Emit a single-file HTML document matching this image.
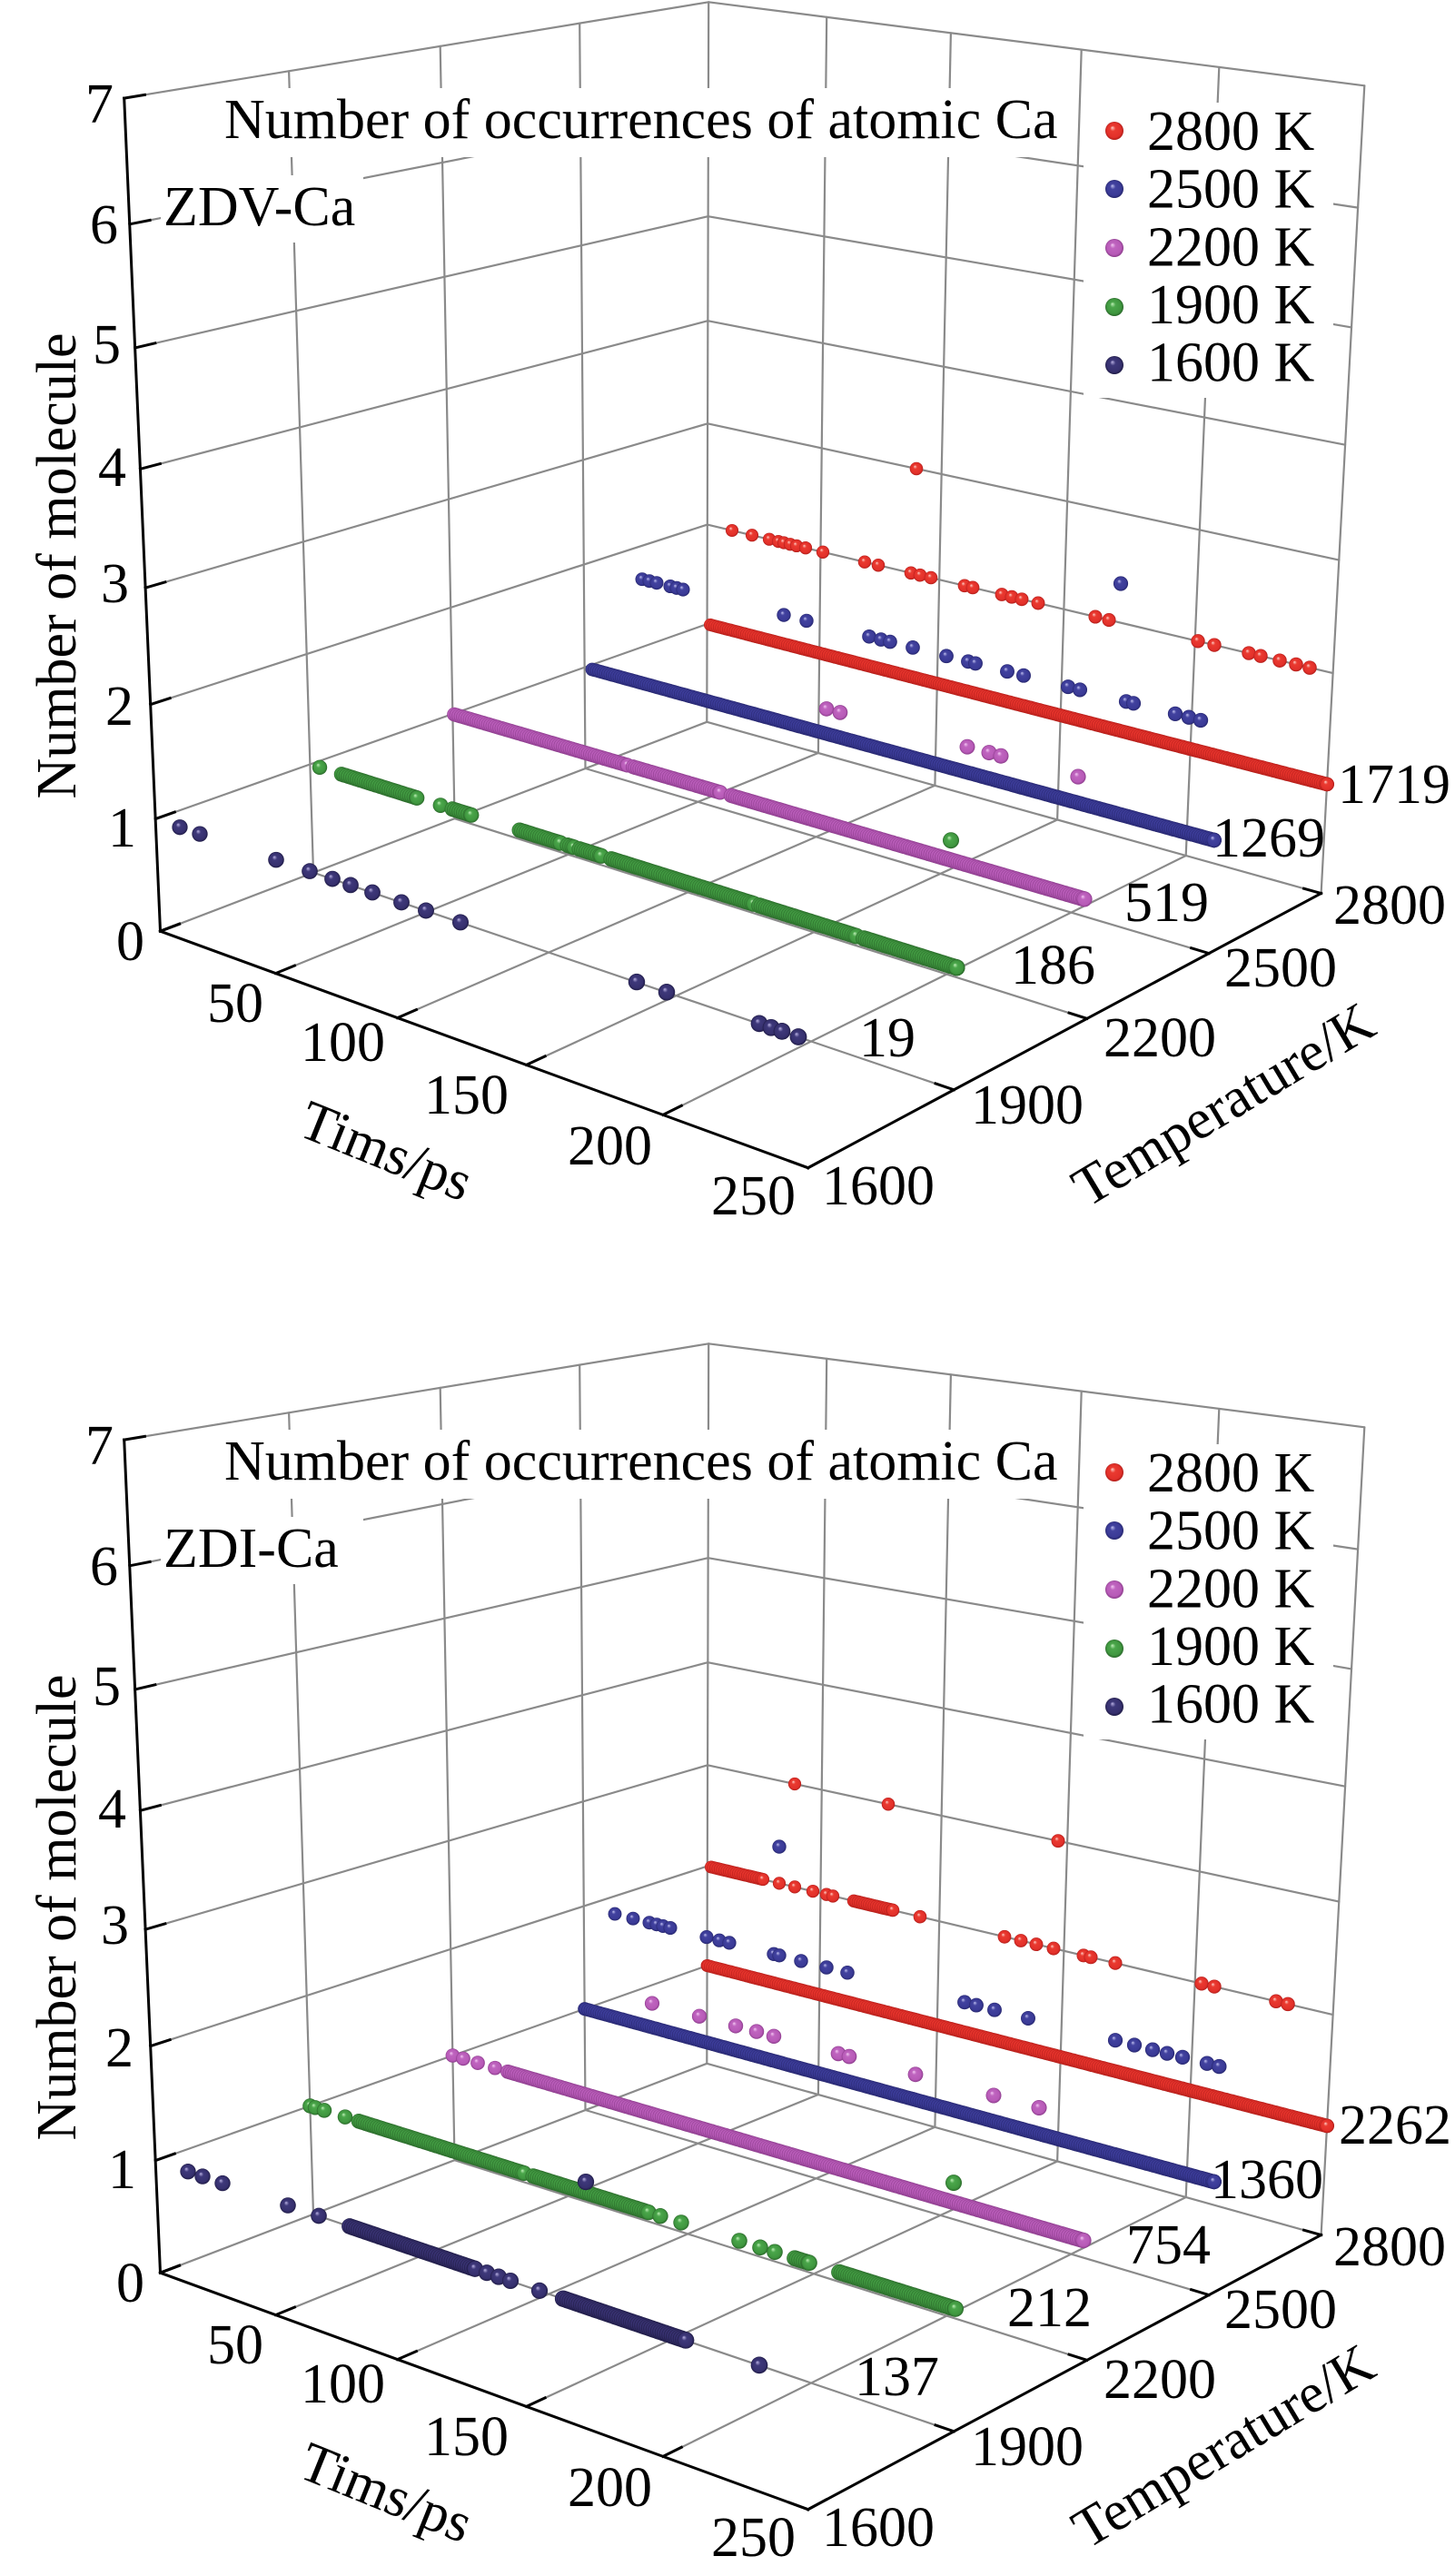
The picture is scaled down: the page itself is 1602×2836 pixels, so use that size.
<!DOCTYPE html>
<html><head><meta charset="utf-8">
<style>html,body{margin:0;padding:0;background:#fff}svg{display:block}
svg text{font-family:"Liberation Serif","Times New Roman",serif;font-size:62px;fill:#000}</style>
</head>
<body>
<svg id="svg" xmlns="http://www.w3.org/2000/svg" width="1602" height="2836" viewBox="0 0 1602 2836">
<defs>
<radialGradient id="gred" cx="50%" cy="50%" r="50%" fx="38%" fy="32%"><stop offset="0" stop-color="#ffd0c8"/><stop offset="0.3" stop-color="#ea3a30"/><stop offset="0.8" stop-color="#e2302a"/><stop offset="1" stop-color="#b01c18"/></radialGradient>
<radialGradient id="gblue" cx="50%" cy="50%" r="50%" fx="38%" fy="32%"><stop offset="0" stop-color="#c0c0f0"/><stop offset="0.3" stop-color="#42429f"/><stop offset="0.8" stop-color="#3a3a96"/><stop offset="1" stop-color="#25256c"/></radialGradient>
<radialGradient id="gpink" cx="50%" cy="50%" r="50%" fx="38%" fy="32%"><stop offset="0" stop-color="#f4c8f4"/><stop offset="0.3" stop-color="#bf64bf"/><stop offset="0.8" stop-color="#b75ab7"/><stop offset="1" stop-color="#8a3a8a"/></radialGradient>
<radialGradient id="ggreen" cx="50%" cy="50%" r="50%" fx="38%" fy="32%"><stop offset="0" stop-color="#c0f0b8"/><stop offset="0.3" stop-color="#4aa64a"/><stop offset="0.8" stop-color="#3f963f"/><stop offset="1" stop-color="#286628"/></radialGradient>
<radialGradient id="gdark" cx="50%" cy="50%" r="50%" fx="38%" fy="32%"><stop offset="0" stop-color="#bab2e4"/><stop offset="0.3" stop-color="#3e387a"/><stop offset="0.8" stop-color="#36306e"/><stop offset="1" stop-color="#1e1a44"/></radialGradient>
</defs>
<rect width="1602" height="2836" fill="#fff"/>
<g id="grid" stroke="#8a8a8a" stroke-width="2.2" fill="none" stroke-linecap="round"></g>

<g fill="#fff">
  <rect x="235" y="97" width="945" height="76"/>
  <rect x="177" y="193" width="223" height="74"/>
  <rect x="1193" y="113" width="275" height="325"/>
  <g transform="translate(0,1477)">
    <rect x="235" y="97" width="945" height="76"/>
    <rect x="177" y="193" width="223" height="74"/>
    <rect x="1193" y="113" width="275" height="325"/>
  </g>
</g>

<g id="axes" stroke="#000" stroke-width="3" fill="none" stroke-linecap="square"></g>
<g id="dots"></g>

<g font-family="Liberation Serif, Times New Roman, serif" font-size="62" fill="#000">
  <!-- top chart -->
  <g>
    <text x="247" y="152">Number of occurrences of atomic Ca</text>
    <text x="180" y="248">ZDV-Ca</text>
    <g text-anchor="end">
      <text x="159" y="1057">0</text><text x="150" y="932">1</text><text x="147" y="798">2</text><text x="142" y="663">3</text>
      <text x="139" y="535">4</text><text x="133" y="400">5</text><text x="130" y="268">6</text><text x="125" y="135">7</text>
      <text x="290" y="1125">50</text><text x="424" y="1168">100</text><text x="560" y="1226">150</text><text x="718" y="1282">200</text><text x="876" y="1337">250</text>
    </g>
    <text x="905" y="1326">1600</text><text x="1069" y="1237">1900</text><text x="1215" y="1163">2200</text><text x="1348" y="1086">2500</text><text x="1468" y="1017">2800</text>
    <text transform="translate(83,623) rotate(-90)" text-anchor="middle">Number of molecule</text>
    <text transform="translate(326,1249) rotate(22)">Tims/ps</text>
    <text transform="translate(1197,1330) rotate(-31)">Temperature/K</text>
    <text x="1263" y="165">2800 K</text><text x="1263" y="228.5">2500 K</text><text x="1263" y="292.5">2200 K</text><text x="1263" y="356">1900 K</text><text x="1263" y="419.5">1600 K</text>
    <text x="1473" y="884">1719</text><text x="1335" y="943">1269</text><text x="1238" y="1014">519</text><text x="1113" y="1083">186</text><text x="946" y="1163">19</text>
  </g>
  <!-- bottom chart -->
  <g transform="translate(0,1477)">
    <text x="247" y="152">Number of occurrences of atomic Ca</text>
    <text x="180" y="248">ZDI-Ca</text>
    <g text-anchor="end">
      <text x="159" y="1057">0</text><text x="150" y="932">1</text><text x="147" y="798">2</text><text x="142" y="663">3</text>
      <text x="139" y="535">4</text><text x="133" y="400">5</text><text x="130" y="268">6</text><text x="125" y="135">7</text>
      <text x="290" y="1125">50</text><text x="424" y="1168">100</text><text x="560" y="1226">150</text><text x="718" y="1282">200</text><text x="876" y="1337">250</text>
    </g>
    <text x="905" y="1326">1600</text><text x="1069" y="1237">1900</text><text x="1215" y="1163">2200</text><text x="1348" y="1086">2500</text><text x="1468" y="1017">2800</text>
    <text transform="translate(83,623) rotate(-90)" text-anchor="middle">Number of molecule</text>
    <text transform="translate(326,1249) rotate(22)">Tims/ps</text>
    <text transform="translate(1197,1330) rotate(-31)">Temperature/K</text>
    <text x="1263" y="165">2800 K</text><text x="1263" y="228.5">2500 K</text><text x="1263" y="292.5">2200 K</text><text x="1263" y="356">1900 K</text><text x="1263" y="419.5">1600 K</text>
    <text x="1474" y="883">2262</text><text x="1333" y="943">1360</text><text x="1240" y="1015">754</text><text x="1109" y="1084">212</text><text x="941" y="1160">137</text>
  </g>
</g>

<g>
  <circle cx="1227" cy="144" r="10" fill="url(#gred)"/>
  <circle cx="1227" cy="208" r="10" fill="url(#gblue)"/>
  <circle cx="1227" cy="273" r="10" fill="url(#gpink)"/>
  <circle cx="1227" cy="338" r="10" fill="url(#ggreen)"/>
  <circle cx="1227" cy="402" r="10" fill="url(#gdark)"/>
  <g transform="translate(0,1477)">
    <circle cx="1227" cy="144" r="10" fill="url(#gred)"/>
    <circle cx="1227" cy="208" r="10" fill="url(#gblue)"/>
    <circle cx="1227" cy="273" r="10" fill="url(#gpink)"/>
    <circle cx="1227" cy="338" r="10" fill="url(#ggreen)"/>
    <circle cx="1227" cy="402" r="10" fill="url(#gdark)"/>
  </g>
</g>
</svg>
<script>
(function(){
var NS="http://www.w3.org/2000/svg";
var pts=[[0,0,0,173,1023],[0.2,0,0,305,1072],[0.4,0,0,440,1121],[0.6,0,0,579,1172],[0.8,0,0,732,1228],[1,0,0,890,1285],
[1,0.25,0,1050,1201],[1,0.5,0,1196,1122],[1,0.75,0,1328,1050],[1,1,0,1456,983],[0,1,0,779,794],
[0,0,1/7,170,902],[0,0,5/7,149,382],[0,0,6/7,143,247],[0,1,1/7,780,688],[0,1,2/7,779,578],[0,1,3/7,779,466],
[0,0,1,137,109],[0,1,1,779,3],[1,1,1,1503,93],[1,1,2/7,1467,741]];
var rows=[],rhs=[];
pts.forEach(function(q){var u=q[0],v=q[1],w=q[2],x=q[3]/1000,y=q[4]/1000;
 rows.push([u,v,w,1,0,0,0,0,-x*u,-x*v,-x*w]);rhs.push(x);
 rows.push([0,0,0,0,u,v,w,1,-y*u,-y*v,-y*w]);rhs.push(y);});
var n=11,A=[],b=[];
for(var i=0;i<n;i++){A.push(new Array(n).fill(0));b.push(0);}
for(var r=0;r<rows.length;r++){for(var i=0;i<n;i++){for(var j=0;j<n;j++)A[i][j]+=rows[r][i]*rows[r][j];b[i]+=rows[r][i]*rhs[r];}}
for(var i=0;i<n;i++){var m=i;for(var k=i+1;k<n;k++)if(Math.abs(A[k][i])>Math.abs(A[m][i]))m=k;
 var t=A[i];A[i]=A[m];A[m]=t;var tb=b[i];b[i]=b[m];b[m]=tb;
 for(var k=i+1;k<n;k++){var f=A[k][i]/A[i][i];for(var j=i;j<n;j++)A[k][j]-=f*A[i][j];b[k]-=f*b[i];}}
var p=new Array(n);
for(var i=n-1;i>=0;i--){var s=b[i];for(var j=i+1;j<n;j++)s-=A[i][j]*p[j];p[i]=s/A[i][i];}
function P(u,v,w){var d=p[8]*u+p[9]*v+p[10]*w+1;
 return [1000*(p[0]*u+p[1]*v+p[2]*w+p[3])/d,1000*(p[4]*u+p[5]*v+p[6]*w+p[7])/d];}
var grid=document.getElementById("grid"),axes=document.getElementById("axes"),dots=document.getElementById("dots");
function L(g,a,c,dy){var e=document.createElementNS(NS,"line");
 e.setAttribute("x1",a[0].toFixed(1));e.setAttribute("y1",(a[1]+dy).toFixed(1));
 e.setAttribute("x2",c[0].toFixed(1));e.setAttribute("y2",(c[1]+dy).toFixed(1));g.appendChild(e);}
function uFromX(v,w,X){var lo=-0.3,hi=1.3;for(var i=0;i<45;i++){var mid=(lo+hi)/2;if(P(mid,v,w)[0]<X)lo=mid;else hi=mid;}return (lo+hi)/2;}
var cols={1:"gred",0.75:"gblue",0.5:"gpink",0.25:"ggreen",0:"gdark"};
function dot(dy,v,w,X,clamp){var u=uFromX(v,w,X);if(clamp){if(u>1)u=1;if(u<0)u=0;}
 var q=P(u,v,w);var rr=7+1.6*(1-v)+0.8*u;
 var c=document.createElementNS(NS,"circle");c.setAttribute("cx",q[0].toFixed(1));c.setAttribute("cy",(q[1]+dy).toFixed(1));
 c.setAttribute("r",rr.toFixed(2));c.setAttribute("fill","url(#"+cols[v]+")");dots.appendChild(c);}
function series(dy,v,N,items){var w=N/7;items.forEach(function(it){
 if(Array.isArray(it)){for(var x=it[0];x<=it[1];x+=2.5)dot(dy,v,w,x,true);dot(dy,v,w,it[1],true);}
 else dot(dy,v,w,it,true);});}
function chart(dy,D){
 var k;
 for(k=1;k<=7;k++){L(grid,P(0,0,k/7),P(0,1,k/7),dy);L(grid,P(0,1,k/7),P(1,1,k/7),dy);}
 [0.25,0.5,0.75,1].forEach(function(v){L(grid,P(0,v,0),P(0,v,1),dy);L(grid,P(0,v,0),P(1,v,0),dy);});
 [0.2,0.4,0.6,0.8,1].forEach(function(u){L(grid,P(u,1,0),P(u,1,1),dy);});
 [0,0.2,0.4,0.6,0.8].forEach(function(u){L(grid,P(u,0,0),P(u,1,0),dy);});
 L(axes,P(0,0,0),P(0,0,1),dy);L(axes,P(0,0,0),P(1,0,0),dy);L(axes,P(1,0,0),P(1,1,0),dy);
 for(k=0;k<=7;k++)L(axes,P(0,0,k/7),P(0,0.03,k/7),dy);
 for(k=0;k<=5;k++)L(axes,P(k/5,0,0),P(k/5,0.03,0),dy);
 for(k=0;k<=4;k++)L(axes,P(1,k/4,0),P(0.975,k/4,0),dy);
 D.forEach(function(s){series(dy,s[0],s[1],s[2]);});
}
chart(0,[
 [1,3,[1009]],
 [1,2,[806,828,847,857,863,870,877,887,906,952,967,1003,1013,1025,1062,1071,1103,1114,1125,1143,1206,1221,1319,1337,1375,1388,1409,1427,1442]],
 [1,1,[[782,1465]]],
 [0.75,3,[1234]],
 [0.75,2,[707,715,723,738,745,752,863,888,957,970,980,1005,1042,1066,1074,1109,1127,1176,1189,1240,1248,1294,1309,1322]],
 [0.75,1,[[652,1342]]],
 [0.5,2,[910,925,1065,1089,1102,1187]],
 [0.5,1,[[500,691],[697,793],[805,1194]]],
 [0.25,2,[1047]],
 [0.25,1,[352,[376,459],485,[498,519],[572,617],[625,632],[638,662],[673,830],[836,943],[951,1061]]],
 [0,1,[198,220,304,341,366,386,410,442,469,507,701,734,836,849,861,879]]
]);
chart(1477,[
 [1,3,[875,978,1165]],
 [1,2,[[783,840],858,875,895,910,917,[940,983],1013,1106,1124,1141,1160,1193,1201,1228,1323,1337,1405,1418]],
 [1,1,[[777,1465]]],
 [0.75,3,[858]],
 [0.75,2,[677,697,715,723,730,738,778,792,803,852,858,882,910,933,1062,1075,1095,1132,1228,1249,1269,1285,1302,1329,1343]],
 [0.75,1,[[640,1340]]],
 [0.5,2,[718,770,810,833,852,923,935,1008,1094,1144]],
 [0.5,1,[495,510,526,545,[559,1193]]],
 [0.25,2,[1050]],
 [0.25,1,[337,347,357,380,[395,577],[587,714],727,750,814,837,853,[875,891],[924,1052]]],
 [0,2,[645]],
 [0,1,[207,223,245,317,351,[385,523],536,549,562,594,[620,755],836]]
]);
})();
</script>
</body></html>
